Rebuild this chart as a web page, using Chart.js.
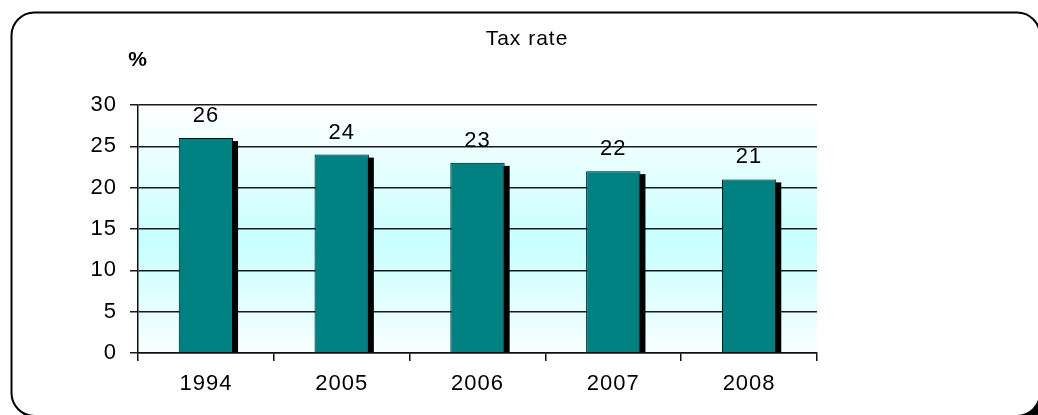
<!DOCTYPE html>
<html>
<head>
<meta charset="utf-8">
<script src="https://cdn.jsdelivr.net/npm/chart.js@4.4.1/dist/chart.umd.min.js"></script>
<style>
  html, body { margin: 0; padding: 0; background: #ffffff; }
  #wrap { width: 1038px; height: 415px; }
</style>
</head>
<body>
<div id="wrap"><canvas id="c" width="1038" height="415"></canvas></div>
<script>
const categories = ['1994', '2005', '2006', '2007', '2008'];
const taxRate = [26, 24, 23, 22, 21];
const yTicks = [0, 5, 10, 15, 20, 25, 30];
const chartTitle = 'Tax rate';
const unitLabel = '%';

const FONT = 'Arial, "Liberation Sans", sans-serif';

const framePlugin = {
  id: 'frame',
  beforeDraw(chart) {
    const ctx = chart.ctx;
    ctx.letterSpacing = '1px';
    ctx.save();
    // outer rounded frame with shadow
    const x = 11.5, y = 12.5, w = 1040 - 11.5, h = 416 - 12.5, r = 23;
    ctx.fillStyle = '#000';
    ctx.beginPath();
    ctx.roundRect(x + 5, y + 5, w, h, r);
    ctx.fill();
    ctx.fillStyle = '#fff';
    ctx.beginPath();
    ctx.roundRect(x, y, w, h, r);
    ctx.fill();
    ctx.lineWidth = 2;
    ctx.strokeStyle = '#000';
    ctx.stroke();
    // plot area gradient
    const a = chart.chartArea;
    const g = ctx.createLinearGradient(0, a.top, 0, a.bottom);
    g.addColorStop(0, '#ffffff');
    g.addColorStop(0.55, '#c8ffff');
    g.addColorStop(1, '#f8ffff');
    ctx.fillStyle = g;
    ctx.fillRect(a.left, a.top, a.right - a.left, a.bottom - a.top);
    ctx.restore();
  },
  beforeDatasetsDraw(chart) {
    const ctx = chart.ctx;
    const meta = chart.getDatasetMeta(0);
    ctx.save();
    ctx.fillStyle = '#000';
    meta.data.forEach(bar => {
      const p = bar.getProps(['x', 'y', 'base', 'width'], true);
      const left = p.x - p.width / 2 + 5;
      const top = p.y + 3;
      ctx.fillRect(left, top, p.width, p.base - top);
    });
    ctx.restore();
  },
  afterDatasetsDraw(chart) {
    const ctx = chart.ctx;
    const meta = chart.getDatasetMeta(0);
    ctx.save();
    ctx.fillStyle = '#000';
    ctx.font = '22px ' + FONT;
    ctx.textAlign = 'center';
    ctx.textBaseline = 'middle';
    meta.data.forEach((bar, i) => {
      const p = bar.getProps(['x', 'y'], true);
      ctx.fillText(String(taxRate[i]), p.x, p.y - 22);
    });
    // title
    ctx.font = '21px ' + FONT;
    ctx.fillText(chartTitle, 527, 39);
    // unit label
    ctx.font = 'bold 21px ' + FONT;
    ctx.fillText(unitLabel, chart.chartArea.left, chart.chartArea.top - 45);
    ctx.restore();
  }
};

new Chart(document.getElementById('c'), {
  type: 'bar',
  data: {
    labels: categories,
    datasets: [{
      label: chartTitle,
      data: taxRate,
      backgroundColor: '#008080',
      borderColor: '#000000',
      borderWidth: 1,
      barPercentage: 0.4,
      categoryPercentage: 1.0
    }]
  },
  options: {
    responsive: false,
    animation: false,
    devicePixelRatio: 1,
    layout: { padding: { left: 0, right: 221, top: 105, bottom: 0 } },
    plugins: {
      legend: { display: false },
      title: { display: false },
      tooltip: { enabled: false }
    },
    scales: {
      x: {
        offset: true,
        grid: {
          offset: true,
          drawOnChartArea: false,
          drawTicks: true,
          tickLength: 8,
          color: '#111',
          lineWidth: 1.5
        },
        border: { display: true, color: '#111', width: 1.5 },
        ticks: { color: '#000', font: { family: FONT, size: 22 }, padding: 10, maxRotation: 0 },
        afterFit(scale) { scale.height = 62; }
      },
      y: {
        min: 0,
        max: 30,
        afterBuildTicks(scale) { scale.ticks = yTicks.map(v => ({ value: v })); },
        grid: {
          color: '#1a1a1a',
          lineWidth: 1.5,
          drawTicks: true,
          tickLength: 8
        },
        border: { display: true, color: '#111', width: 1.5 },
        ticks: { color: '#000', font: { family: FONT, size: 22 }, padding: 13 },
        afterFit(scale) { scale.width = 138; }
      }
    }
  },
  plugins: [framePlugin]
});
</script>
</body>
</html>
